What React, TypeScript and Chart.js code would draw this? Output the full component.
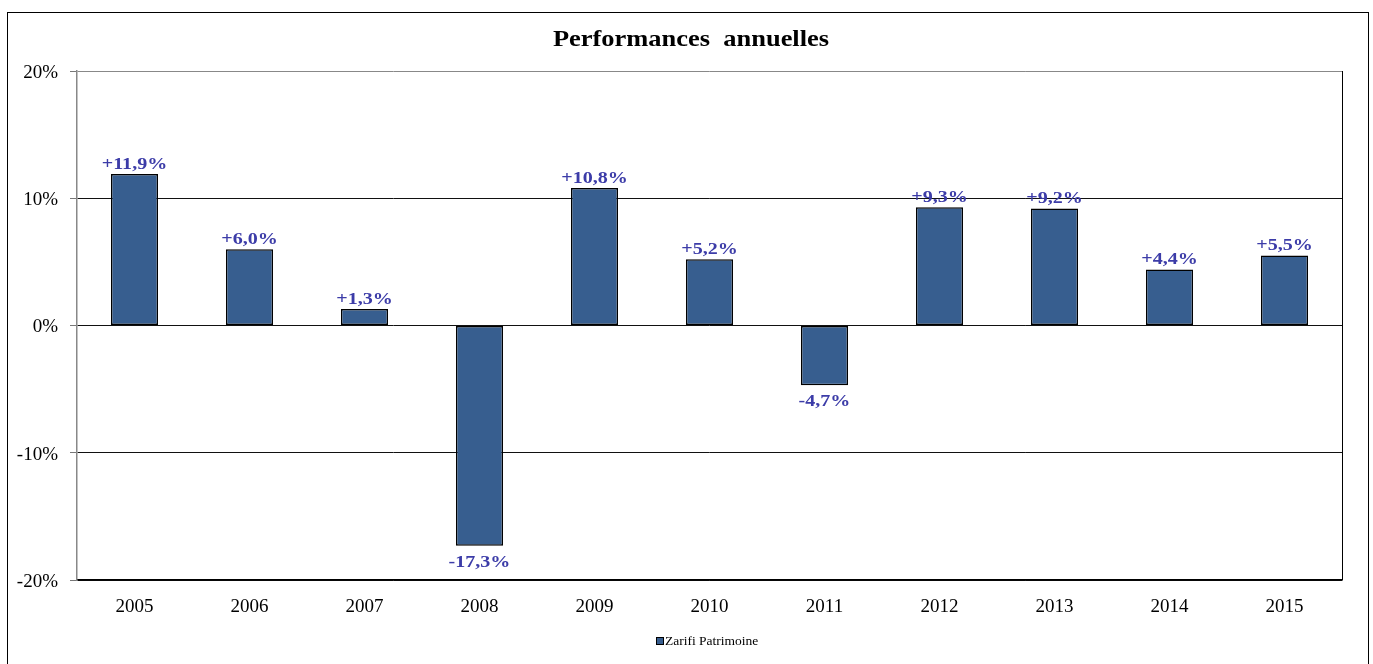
import React, { useEffect, useRef } from "react";
import { Chart, registerables } from "chart.js";

Chart.register(...registerables);

const years = ["2005", "2006", "2007", "2008", "2009", "2010", "2011", "2012", "2013", "2014", "2015"];
const performance = [11.9, 6.0, 1.3, -17.3, 10.8, 5.2, -4.7, 9.3, 9.2, 4.4, 5.5];
const seriesName = "Zarifi Patrimoine";
const chartTitle = "Performances annuelles";

const SERIF = "'Liberation Serif', 'Times New Roman', serif";
const BAR_COLOR = "#375E8F";
const LABEL_COLOR = "#3C3CA8";

const fmt = (v: number) => (v > 0 ? "+" : "") + v.toFixed(1).replace(".", ",") + "%";

const stretchText = (ctx: any, text: string, x: number, y: number, sx: number) => {
  ctx.save();
  ctx.translate(x, y);
  ctx.scale(sx, 1);
  ctx.fillText(text, 0, 0);
  ctx.restore();
};

const decorPlugin = {
  id: "decor",
  afterDraw(chart: any) {
    const ctx = chart.ctx;
    const area = chart.chartArea;
    ctx.save();
    // outer frame
    ctx.strokeStyle = "#000";
    ctx.lineWidth = 1;
    ctx.strokeRect(7.5, 12.5, 1361, 700);
    // right border of plot
    ctx.beginPath();
    ctx.moveTo(Math.round(area.right) + 0.5, area.top);
    ctx.lineTo(Math.round(area.right) + 0.5, area.bottom);
    ctx.stroke();
    // title
    ctx.fillStyle = "#000";
    ctx.font = `bold 23px ${SERIF}`;
    ctx.textAlign = "center";
    ctx.textBaseline = "middle";
    ctx.save();
    ctx.translate(691, 40);
    ctx.scale(1.15, 1);
    ctx.fillText(chartTitle.replace(" ", "  "), 0, 0);
    ctx.restore();
    // data labels
    const meta = chart.getDatasetMeta(0);
    ctx.font = `bold 17px ${SERIF}`;
    ctx.fillStyle = LABEL_COLOR;
    meta.data.forEach((bar: any, i: number) => {
      const v = performance[i];
      if (v >= 0) {
        ctx.textBaseline = "bottom";
        stretchText(ctx, fmt(v), bar.x, bar.y - 1, 1.18);
      } else {
        ctx.textBaseline = "top";
        stretchText(ctx, fmt(v), bar.x, bar.y + 8, 1.18);
      }
    });
    // legend
    ctx.fillStyle = BAR_COLOR;
    ctx.fillRect(656, 637, 8, 8);
    ctx.strokeStyle = "#000";
    ctx.strokeRect(656.5, 637.5, 7, 7);
    ctx.fillStyle = "#000";
    ctx.font = `13.5px ${SERIF}`;
    ctx.textAlign = "left";
    ctx.textBaseline = "middle";
    ctx.fillText(seriesName, 665, 641);
    ctx.restore();
  },
};

export default function App() {
  const ref = useRef<HTMLCanvasElement>(null);
  useEffect(() => {
    if (!ref.current) return;
    const chart = new Chart(ref.current, {
      type: "bar",
      data: {
        labels: years,
        datasets: [
          {
            label: seriesName,
            data: performance,
            backgroundColor: BAR_COLOR,
            borderColor: "#000",
            borderWidth: 1.5,
            borderSkipped: false,
            barPercentage: 0.41,
            categoryPercentage: 1,
          },
        ],
      },
      options: {
        animation: false,
        responsive: false,
        maintainAspectRatio: false,
        layout: { padding: { left: 0, right: 31, top: 71, bottom: 44 } },
        plugins: { legend: { display: false }, title: { display: false }, tooltip: { enabled: false } },
        scales: {
          x: {
            grid: { display: false },
            border: { color: "#000", width: 1.5 },
            ticks: { color: "#000", font: { family: SERIF, size: 19 }, padding: 8 },
            afterFit: (s: any) => {
              s.height = 40;
            },
          },
          y: {
            min: -20,
            max: 20,
            ticks: {
              stepSize: 10,
              color: "#000",
              padding: 12,
              labelOffset: 2,
              font: { family: SERIF, size: 19 },
              callback: (v: any) => v + "%",
            },
            grid: {
              tickLength: 7,
              color: (c: any) => (c.tick && c.tick.value === 20 ? "#888" : "#111"),
              tickColor: "#777",
              lineWidth: 1,
            },
            border: { color: "#888", width: 1.5 },
            afterFit: (s: any) => {
              s.width = 77;
            },
          },
        },
      },
      plugins: [decorPlugin],
    });
    return () => chart.destroy();
  }, []);
  return (
    <div style={{ position: "fixed", left: 0, top: 0, width: 1373, height: 664, background: "#fff" }}>
      <canvas ref={ref} width={1373} height={664} style={{ width: 1373, height: 664 }} />
    </div>
  );
}
